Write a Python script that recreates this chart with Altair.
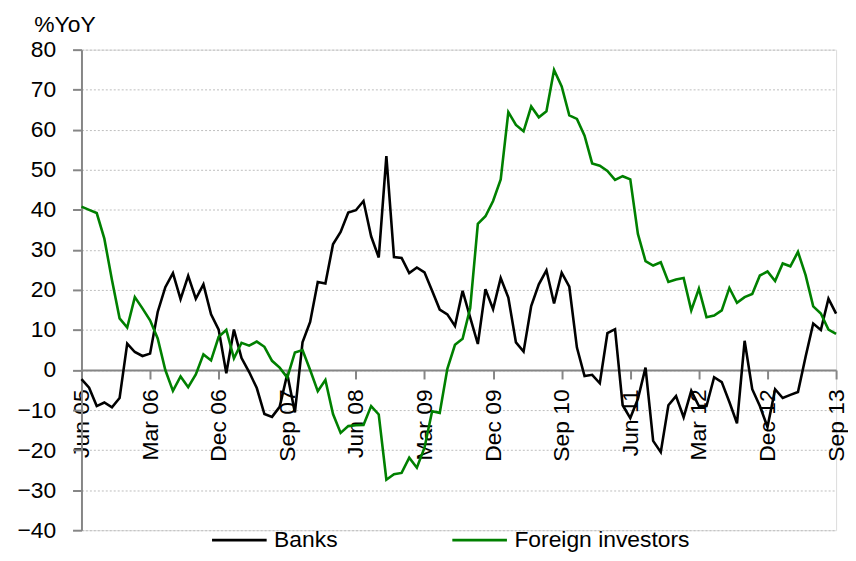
import altair as alt
import pandas as pd

FONT = "Liberation Sans, Arial, sans-serif"

# Monthly categories Jun 05 .. Sep 13
months = [d.strftime("%b %y") for d in pd.date_range("2005-06-01", "2013-09-01", freq="MS")]
tick_labels = ["Jun 05", "Mar 06", "Dec 06", "Sep 07", "Jun 08", "Mar 09",
               "Dec 09", "Sep 10", "Jun 11", "Mar 12", "Dec 12", "Sep 13"]
y_ticks = [-40, -30, -20, -10, 0, 10, 20, 30, 40, 50, 60, 70, 80]

series_names = ["Banks", "Foreign investors"]
series_colors = ["#000000", "#008000"]

banks = [
    -2.3, -4.4, -9.0, -8.1, -9.3, -7.0, 6.6, 4.5, 3.5, 4.1,
    14.5, 20.7, 24.2, 17.7, 23.5, 17.8, 21.4, 13.9, 10.1, -0.8,
    10.1, 3.0, -0.5, -4.5, -11.0, -11.7, -9.2, -1.0, -10.6, 6.9,
    12.0, 22.0, 21.6, 31.4, 34.5, 39.3, 39.9, 42.2, 33.4, 28.1,
    53.4, 28.2, 28.0, 24.2, 25.6, 24.4, 19.8, 15.1, 13.9, 11.0,
    19.8, 13.1, 6.5, 20.2, 15.2, 23.0, 18.1, 6.9, 4.6, 16.0,
    21.4, 24.9, 16.6, 24.3, 20.8, 5.6, -1.5, -1.2, -3.3, 9.2,
    10.2, -8.8, -12.0, -7.2, 0.6, -17.7, -20.5, -8.8, -6.5, -11.8,
    -5.2, -9.0, -9.0, -1.8, -3.0, -8.0, -13.3, 7.3, -4.8, -9.0,
    -14.2, -4.8, -7.0, -6.2, -5.5, 3.3, 11.6, 10.0, 17.8, 14.1,
]

foreign = [
    40.8, 40.0, 39.2, 32.8, 22.5, 12.9, 10.6, 18.2, 15.4, 12.4,
    7.9, 0.0, -5.2, -1.6, -4.3, -1.1, 3.9, 2.4, 8.3, 10.0,
    2.9, 6.8, 6.1, 7.1, 5.8, 2.3, 0.6, -1.9, 4.4, 5.0,
    0.0, -5.3, -2.5, -11.0, -15.7, -14.0, -13.8, -13.7, -9.0, -11.1,
    -27.4, -26.0, -25.7, -21.9, -24.4, -19.4, -10.3, -10.7, 0.3, 6.3,
    7.8, 15.5, 36.5, 38.4, 42.2, 47.6, 64.4, 61.2, 59.6, 65.8,
    63.1, 64.6, 74.9, 70.8, 63.6, 62.7, 58.5, 51.6, 51.0, 49.7,
    47.5, 48.4, 47.6, 34.0, 27.2, 26.1, 26.9, 22.0, 22.6, 23.0,
    14.9, 20.3, 13.2, 13.6, 14.9, 20.5, 16.8, 18.2, 19.0, 23.6,
    24.6, 22.2, 26.6, 25.9, 29.5, 23.7, 15.9, 14.1, 10.1, 9.0,
]

df = pd.DataFrame({
    "month": months * 2,
    "series": [series_names[0]] * len(months) + [series_names[1]] * len(months),
    "value": banks + foreign,
})

W, H = 760, 484
zero_offset = -H * (0 - (-40)) / (80 - (-40))

chart = alt.Chart(df).mark_line(strokeWidth=2.6).encode(
    x=alt.X(
        "month:O",
        sort=months,
        scale=alt.Scale(type="point", padding=0),
        axis=alt.Axis(
            values=tick_labels,
            title=None,
            labelAngle=270,
            labelAlign="right",
            labelBaseline="middle",
            labelFontSize=23,
            labelFont=FONT,
            labelColor="#000000",
            labelPadding=10,
            labelOverlap=False,
            labelFlush=False,
            tickSize=9,
            tickWidth=2,
            tickColor="#868686",
            domainColor="#868686",
            domainWidth=2,
            offset=zero_offset,
            grid=False,
        ),
    ),
    y=alt.Y(
        "value:Q",
        scale=alt.Scale(domain=[-40, 80], nice=False, zero=False),
        axis=alt.Axis(
            values=y_ticks,
            title="%YoY",
            titleAngle=0,
            titleAlign="left",
            titleBaseline="alphabetic",
            titleX=-48,
            titleY=-18,
            titleFontSize=23,
            titleFontWeight="normal",
            titleFont=FONT,
            titleColor="#000000",
            labelFontSize=23,
            labelFont=FONT,
            labelColor="#000000",
            labelPadding=17,
            labelFlush=False,
            tickSize=9,
            tickWidth=2,
            tickColor="#868686",
            domainColor="#868686",
            domainWidth=2,
            grid=True,
            gridColor="#bdbdbd",
            gridDash=[2, 2],
            gridWidth=1,
        ),
    ),
    color=alt.Color(
        "series:N",
        scale=alt.Scale(domain=series_names, range=series_colors),
        legend=alt.Legend(
            orient="none",
            legendX=130,
            legendY=465,
            direction="horizontal",
            title=None,
            symbolType="stroke",
            symbolSize=3025,
            symbolStrokeWidth=2.6,
            labelFontSize=23,
            labelFont=FONT,
            labelColor="#000000",
            labelOffset=6,
            labelLimit=400,
            columnPadding=110,
            padding=0,
        ),
    ),
).properties(
    width=W,
    height=H,
    autosize=alt.AutoSizeParams(type="none"),
    padding={"left": 74, "top": 40, "right": 12, "bottom": 21},
).configure_view(
    stroke=None
).configure(
    background="#ffffff"
)

chart.save("out.html", embed_options={"renderer": "svg", "actions": False})
